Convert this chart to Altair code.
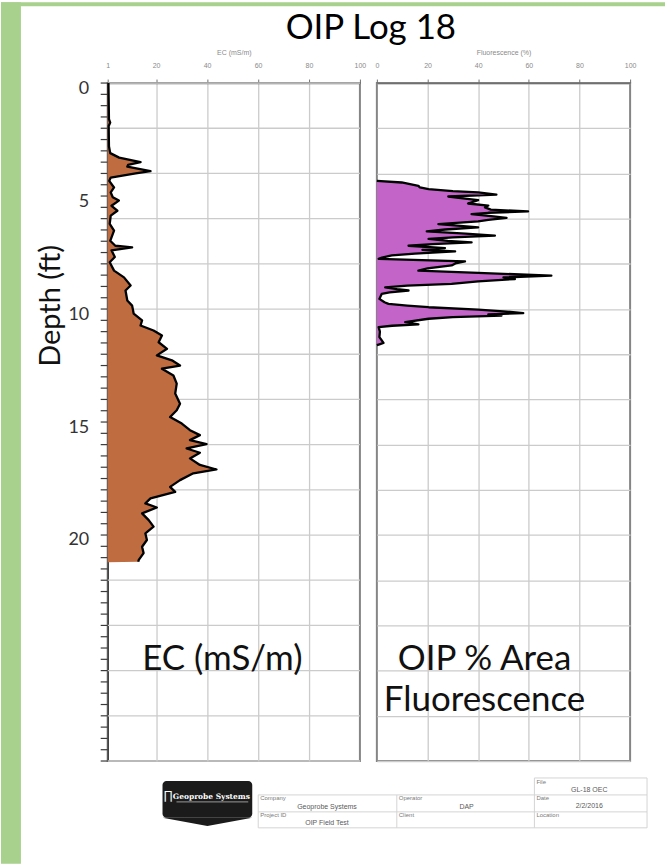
import altair as alt
import pandas as pd

# ---------------- data ----------------
ec_depth = [0.0, 0.8, 1.6, 1.75, 1.9, 2.8, 3.1, 3.3, 3.5, 3.62, 3.7, 3.9, 4.0, 4.18, 4.33,
            4.62, 4.84, 5.05, 5.2, 5.43, 5.65, 5.87, 6.23, 6.53, 6.98, 7.2, 7.27, 7.4, 7.7,
            7.93, 8.3, 8.6, 8.96, 9.18, 9.62, 9.85, 10.2, 10.5, 10.73, 10.95, 11.17, 11.47,
            11.76, 12.05, 12.27, 12.5, 12.64, 12.94, 13.3, 13.74, 14.19, 14.48, 14.78, 15.07,
            15.36, 15.58, 15.8, 15.98, 16.17, 16.36, 16.61, 16.9, 17.1, 17.27, 17.57, 17.87,
            18.09, 18.38, 18.6, 18.78, 19.04, 19.34, 19.63, 19.93, 20.22, 20.52, 20.8, 21.1,
            21.18, 21.2]
ec_value = [1.3, 1.4, 1.5, 2.0, 1.4, 1.5, 2.0, 5.5, 13.9, 9.0, 8.7, 17.8, 12.0, 2.2, 1.6,
            3.5, 2.2, 3.0, 5.4, 2.5, 4.8, 2.2, 1.8, 3.5, 2.0, 4.0, 10.6, 2.5, 3.8,
            1.8, 3.5, 7.4, 10.0, 8.0, 8.7, 10.6, 11.2, 14.5, 13.9, 19.0, 22.3, 21.0,
            24.3, 20.3, 26.2, 29.4, 22.3, 26.8, 28.1, 27.5, 29.4, 28.1, 25.5, 30.1,
            33.3, 37.2, 33.3, 39.8, 32.0, 37.2, 33.3, 37.2, 43.7, 34.6, 29.4, 25.5,
            27.5, 17.8, 15.8, 20.3, 14.5, 17.1, 19.0, 15.8, 16.4, 14.5, 15.1, 13.2,
            13.0, 1.0]

fl_depth = [4.33, 4.40, 4.55, 4.62, 4.69, 4.78, 4.84, 4.94, 5.02, 5.10, 5.18, 5.33, 5.42,
            5.50, 5.60, 5.68, 5.74, 5.80, 5.90, 5.97, 6.05, 6.12, 6.24, 6.32, 6.39, 6.48,
            6.56, 6.66, 6.75, 6.83, 6.90, 6.98, 7.05, 7.13, 7.20, 7.30, 7.38, 7.45, 7.55,
            7.63, 7.72, 7.78, 7.89, 7.98, 8.07, 8.20, 8.30, 8.40, 8.52, 8.60, 8.67, 8.78,
            8.89, 8.96, 9.04, 9.12, 9.18, 9.26, 9.33, 9.55, 9.70, 9.77, 9.85, 9.92, 10.03,
            10.10, 10.18, 10.24, 10.29, 10.36, 10.43, 10.58, 10.68, 10.74, 10.80, 11.0,
            11.24, 11.40, 11.50, 11.56, 11.60]
fl_value = [0, 9.8, 16.4, 17, 20.4, 30, 40, 47.2, 28.2, 34, 40, 36, 44,
            42.7, 45, 59.7, 44, 37.4, 46, 51.2, 44, 40, 24.3, 33, 40, 27,
            19.7, 35, 46.6, 30, 20.4, 28, 37.4, 22, 12.5, 26.9, 18, 30.9, 15,
            5.9, 2, 0.7, 34.8, 31, 29.5, 20, 16.4, 40, 68.9, 50, 54.5, 40,
            29.5, 12, 3.3, 8, 12.5, 5, 1.9, 1.0, 3, 4.6, 12, 20.4, 40,
            50, 57.8, 44, 49.2, 30, 20.4, 11.2, 16.4, 6, 0.7, 1.2,
            1.0, 2, 2.6, 1, 0]

ec_ticks = [1] + list(range(5, 101, 5))
fl_ticks = list(range(0, 101, 5))
depth_ticks = [i * 0.5 for i in range(61)]
depth_grid = list(range(0, 31, 2))
depth_labels = [0, 5, 10, 15, 20]

title_text = "OIP Log 18"
ec_big = "EC (mS/m)"
fl_big1 = "OIP % Area"
fl_big2 = "Fluorescence"

footer_labels = ["Company", "Operator", "Project ID", "Client", "File", "Date", "Location"]
footer_values = ["Geoprobe Systems", "DAP", "OIP Field Test", "GL-18 OEC", "2/2/2016"]

# ---------------- layout / style ----------------
FONT = "Lato"
GRID = "#cbcbcb"
GREEN = "#A9D18E"
W_L, W_R, H = 253, 254, 680
OX, OY = 107, 81  # left panel origin on the page

ec_df = pd.DataFrame({"depth": ec_depth, "ec": ec_value})
ec_line_df = ec_df.iloc[:-1]
fl_df = pd.DataFrame({"depth": fl_depth, "fl": fl_value})
tick_df = pd.DataFrame({"depth": depth_ticks})
grid_df = pd.DataFrame({"depth": depth_grid})
one = pd.DataFrame({"a": [0]})

yscale = alt.Scale(domain=[0, 30], reverse=True, nice=False, zero=False)


def top_axis(values, label_test, grid_test, title):
    return alt.Axis(
        orient="top", values=values,
        labelExpr=f"({label_test}) ? format(datum.value, 'd') : ''",
        labelFont="Liberation Sans", labelFontSize=7, labelColor="#8a8a8a",
        labelFlush=False, labelPadding=11, labelOverlap=False,
        tickSize=4, tickColor="#707070", domainColor="#707070", domainWidth=1.5,
        grid=True, gridColor=GRID, gridWidth=1.3,
        gridOpacity={"condition": {"test": grid_test, "value": 1}, "value": 0},
        title=title, titleFont="Liberation Sans", titleFontSize=7,
        titleFontWeight="normal", titleColor="#8a8a8a", titlePadding=6,
    )


y_axis_left = alt.Axis(
    orient="left", values=depth_labels, format="d",
    labelFont=FONT, labelFontSize=18, labelColor="#333333", labelPadding=19,
    labelOverlap=False, labelBound=False, labelOffset=5,
    ticks=False, grid=False, domainColor="#3a3a3a", domainWidth=1.5,
    title="Depth (ft)", titleFont=FONT, titleFontSize=29, titleFontWeight="normal",
    titleColor="#111111", titleX=-57, titleY=223, titleAngle=270,
    titleAlign="center", titleBaseline="middle",
)

y_axis_right = alt.Axis(
    orient="left", values=depth_grid, labels=False, ticks=False, domain=False,
    grid=True, gridColor=GRID, gridWidth=1.3, title="",
)

# ---------------- left panel ----------------
ec_grid = alt.Chart(grid_df).mark_rule(color=GRID, strokeWidth=1.3).encode(
    y=alt.Y("depth:Q", scale=yscale, axis=y_axis_left),
    x=alt.value(0), x2=alt.value(W_L),
)
ec_minor = alt.Chart(tick_df).mark_rule(color="#3a3a3a", strokeWidth=1.2).encode(
    y="depth:Q", x=alt.value(-7), x2=alt.value(0),
)
ec_area = alt.Chart(ec_df).mark_area(orient="horizontal", color="#BE6C40", opacity=1).encode(
    x=alt.X("ec:Q", scale=alt.Scale(domain=[1, 100], nice=False, zero=False),
            axis=top_axis(ec_ticks, "datum.value === 1 || datum.value % 20 === 0",
                          "datum.value % 20 === 0 && datum.value > 1 && datum.value < 100",
                          "EC (mS/m)")),
    x2=alt.datum(1),
    y="depth:Q",
)
ec_line = alt.Chart(ec_line_df).mark_line(color="black", strokeWidth=2.3, strokeJoin="round").encode(
    x="ec:Q", y="depth:Q", order="depth:Q"
)
ec_label = alt.Chart(one).mark_text(font=FONT, fontSize=35, color="#111111", baseline="middle").encode(
    x=alt.datum(46), y=alt.datum(25.5), text=alt.value(ec_big)
)


def px(x, y):
    return dict(x=alt.value(x - OX), y=alt.value(y - OY))


def rect(x1, x2, y1, y2, color, **kw):
    return alt.Chart(one).mark_rect(color=color, **kw).encode(
        x=alt.value(x1 - OX), x2=alt.value(x2 - OX), y=alt.value(y1 - OY), y2=alt.value(y2 - OY)
    )


def hrule(x1, x2, y, color="#d4d4d4"):
    return alt.Chart(one).mark_rule(color=color, strokeWidth=1).encode(
        x=alt.value(x1 - OX), x2=alt.value(x2 - OX), y=alt.value(y - OY)
    )


def vrule(x, y1, y2, color="#d4d4d4"):
    return alt.Chart(one).mark_rule(color=color, strokeWidth=1).encode(
        x=alt.value(x - OX), y=alt.value(y1 - OY), y2=alt.value(y2 - OY)
    )


def txt(s, x, y, size=6.5, color="#7a7a7a", align="left", font="Liberation Sans", **kw):
    return alt.Chart(one).mark_text(
        font=font, fontSize=size, color=color, align=align, baseline="middle", **kw
    ).encode(text=alt.value(s), **px(x, y))


deco = [
    rect(0, 20, 0, 864, GREEN),
    rect(0, 666, 0, 4, GREEN),
    alt.Chart(one).mark_text(font=FONT, fontSize=35, color="#000000", baseline="alphabetic").encode(
        text=alt.value(title_text), **px(371, 37)),
]

# footer: logo
footer = [
    rect(162, 252, 781, 818, "#1b1b1b", cornerRadius=4),
    alt.Chart(one).mark_point(shape="M-1,0L1,0L0,0.18Z", size=8100, filled=True,
                              color="#1b1b1b", opacity=1).encode(**px(207, 818)),
    txt("Geoprobe Systems", 211, 797, size=7.5, color="#ffffff", align="center",
        fontWeight="bold", font="DejaVu Serif"),
    txt("\u220F", 168, 795, size=12, color="#ffffff", align="center"),
    hrule(176, 248, 802, color="#9a9a9a"),
]
# footer: table lines
footer += [
    hrule(258, 648, 795), hrule(258, 648, 812), hrule(258, 648, 828), hrule(535, 648, 778),
    vrule(258, 795, 828), vrule(397, 795, 828), vrule(535, 778, 828), vrule(648, 778, 828),
]
label_pos = [(260, 798), (399, 798), (260, 815), (399, 815), (537, 782), (537, 798), (537, 815)]
for s, (x, y) in zip(footer_labels, label_pos):
    footer.append(txt(s, x, y, size=6))
value_pos = [(327, 807), (467, 807), (327, 823), (590, 790), (590, 806)]
for s, (x, y) in zip(footer_values, value_pos):
    footer.append(txt(s, x, y, size=7, color="#5a5a5a", align="center"))

left = alt.layer(ec_grid, *deco, *footer, ec_minor, ec_area, ec_line, ec_label).properties(
    width=W_L, height=H)

# ---------------- right panel ----------------
fl_area = alt.Chart(fl_df).mark_area(orient="horizontal", color="#C364C8", opacity=1).encode(
    x=alt.X("fl:Q", scale=alt.Scale(domain=[0, 100], nice=False, zero=False),
            axis=top_axis(fl_ticks, "datum.value % 20 === 0",
                          "datum.value % 20 === 0 && datum.value > 0 && datum.value < 100",
                          "Fluorescence (%)")),
    x2=alt.datum(0),
    y=alt.Y("depth:Q", scale=yscale, axis=y_axis_right),
)
fl_line = alt.Chart(fl_df).mark_line(color="black", strokeWidth=2.3, strokeJoin="round").encode(
    x="fl:Q", y="depth:Q", order="depth:Q"
)
fl_label1 = alt.Chart(one).mark_text(font=FONT, fontSize=35, color="#111111", baseline="middle").encode(
    x=alt.datum(42.5), y=alt.datum(25.5), text=alt.value(fl_big1)
)
fl_label2 = alt.Chart(one).mark_text(font=FONT, fontSize=35, color="#111111", baseline="middle").encode(
    x=alt.datum(42.5), y=alt.datum(27.3), text=alt.value(fl_big2)
)
right = alt.layer(fl_area, fl_line, fl_label1, fl_label2).properties(width=W_R, height=H)

chart = (
    alt.HConcatChart(hconcat=[left, right], spacing=17, bounds="flush")
    .properties(padding=0, background="white")
    .configure_view(stroke="#858585", strokeWidth=2)
    .configure_axis(labelOverlap=False)
)

chart.save("out.html", embed_options={"renderer": "svg", "actions": False})
